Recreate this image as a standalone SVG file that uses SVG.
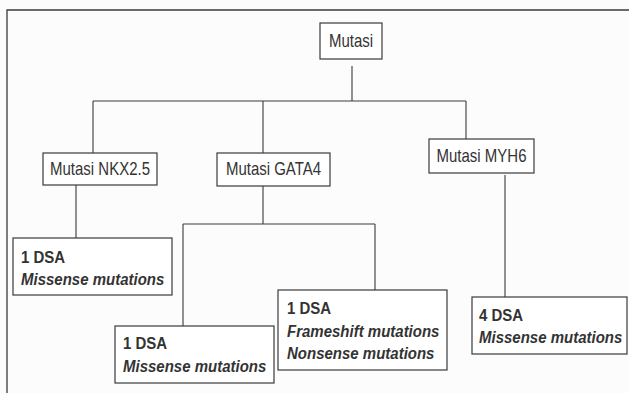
<svg xmlns="http://www.w3.org/2000/svg" width="629" height="393" viewBox="0 0 629 393">
<style>
.frame{fill:none;stroke:#3a3a3a;stroke-width:1.3}
.box{fill:#fff;stroke:#3a3a3a;stroke-width:1.2}
.ln{fill:none;stroke:#3a3a3a;stroke-width:1.1}
.lbl{font-family:"Liberation Sans",Arial,sans-serif;font-size:15px;fill:#333}
.b{font-family:"Liberation Sans",Arial,sans-serif;font-size:15px;font-weight:bold;fill:#333}
.bi{font-family:"Liberation Sans",Arial,sans-serif;font-size:15px;font-weight:bold;font-style:italic;fill:#333}
</style>
<rect width="629" height="393" fill="#fcfcfc"/>
<path class="frame" d="M7 393 V10 H629"/>
<g id="connectors">
<path class="ln" d="M352 66 V101"/>
<path class="ln" d="M93 101 H466"/>
<path class="ln" d="M93 101 V153"/>
<path class="ln" d="M263 101 V153"/>
<path class="ln" d="M466 101 V139"/>
<path class="ln" d="M76 185 V238"/>
<path class="ln" d="M263 186 V224 M183 224 H375 M183 224 V326 M375 224 V290"/>
<path class="ln" d="M505 175 V297"/>
</g>
<g id="mutasi">
<rect class="box" x="320" y="23" width="62" height="36"/>
<text class="lbl" text-anchor="middle" transform="translate(351 47) scale(1 1.18)">Mutasi</text>
</g>
<g id="nkx25">
<rect class="box" x="43" y="153" width="114" height="32"/>
<text class="lbl" text-anchor="middle" transform="translate(100 175) scale(1 1.18)">Mutasi NKX2.5</text>
</g>
<g id="gata4">
<rect class="box" x="217" y="153" width="113" height="33"/>
<text class="lbl" text-anchor="middle" transform="translate(273.5 175) scale(1 1.18)">Mutasi GATA4</text>
</g>
<g id="myh6">
<rect class="box" x="429" y="139" width="105" height="34"/>
<text class="lbl" text-anchor="middle" transform="translate(481.5 162) scale(1 1.18)">Mutasi MYH6</text>
</g>
<g id="nkx-result">
<rect class="box" x="13" y="238" width="159" height="57"/>
<text class="b" transform="translate(21 263) scale(1 1.15)">1 DSA</text>
<text class="bi" transform="translate(21 285) scale(1 1.15)">Missense mutations</text>
</g>
<g id="gata-missense">
<rect class="box" x="115" y="326" width="159" height="57"/>
<text class="b" transform="translate(123 349) scale(1 1.15)">1 DSA</text>
<text class="bi" transform="translate(123 372) scale(1 1.15)">Missense mutations</text>
</g>
<g id="gata-frameshift">
<rect class="box" x="278" y="290" width="169" height="80"/>
<text class="b" transform="translate(287 314) scale(1 1.15)">1 DSA</text>
<text class="bi" transform="translate(287 337) scale(1 1.15)">Frameshift mutations</text>
<text class="bi" transform="translate(287 359) scale(1 1.15)">Nonsense mutations</text>
</g>
<g id="myh6-result">
<rect class="box" x="472" y="297" width="155" height="57"/>
<text class="b" transform="translate(479 321) scale(1 1.15)">4 DSA</text>
<text class="bi" transform="translate(479 343) scale(1 1.15)">Missense mutations</text>
</g>
</svg>
